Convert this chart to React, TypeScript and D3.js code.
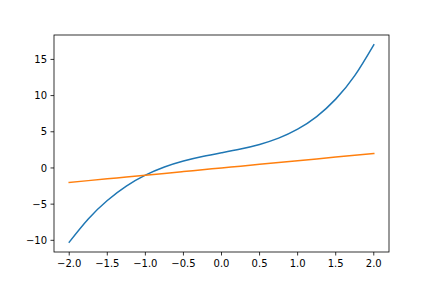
import React from "react";
import * as d3 from "d3";

const xs = [-2.0, -1.75, -1.5, -1.25, -1.0, -0.75, -0.5, -0.25, 0.0, 0.25, 0.5, 0.75, 1.0, 1.25, 1.5, 1.75, 2.0];
const blueYs = [-10.25, -7.05, -4.5, -2.51, -1.0, 0.13, 0.96, 1.58, 2.1, 2.62, 3.25, 4.12, 5.36, 7.1, 9.51, 12.75, 17.01];
const orangeYs = [-2.0, -1.75, -1.5, -1.25, -1.0, -0.75, -0.5, -0.25, 0.0, 0.25, 0.5, 0.75, 1.0, 1.25, 1.5, 1.75, 2.0];
const xTicks = [-2.0, -1.5, -1.0, -0.5, 0.0, 0.5, 1.0, 1.5, 2.0];
const yTicks = [-10, -5, 0, 5, 10, 15];

const W = 432;
const H = 288;
const left = 54;
const right = 389;
const top = 35;
const bottom = 252;

const fmtX = (v: number) => v.toFixed(1).replace("-", "\u2212");
const fmtY = (v: number) => String(v).replace("-", "\u2212");

export default function App() {
  const allY = [...blueYs, ...orangeYs];
  const yMin = d3.min(allY) as number;
  const yMax = d3.max(allY) as number;
  const yPad = (yMax - yMin) * 0.05;
  const xMin = d3.min(xs) as number;
  const xMax = d3.max(xs) as number;
  const xPad = (xMax - xMin) * 0.05;
  const x = d3.scaleLinear().domain([xMin - xPad, xMax + xPad]).range([left, right]);
  const y = d3.scaleLinear().domain([yMin - yPad, yMax + yPad]).range([bottom, top]);

  const line = d3
    .line<number>()
    .x((_, i) => x(xs[i]))
    .y((d) => y(d))
    .curve(d3.curveNatural);

  const font = "DejaVu Sans, sans-serif";

  return (
    <svg
      width={W}
      height={H}
      style={{ position: "absolute", left: 0, top: 0, background: "#fff" }}
      xmlns="http://www.w3.org/2000/svg"
    >
      <rect x={0} y={0} width={W} height={H} fill="#fff" />
      <path d={line(blueYs) || ""} fill="none" stroke="#1f77b4" strokeWidth={1.5} strokeLinejoin="round" strokeLinecap="square" />
      <path d={line(orangeYs) || ""} fill="none" stroke="#ff7f0e" strokeWidth={1.5} strokeLinejoin="round" strokeLinecap="square" />
      <rect x={left} y={top} width={right - left} height={bottom - top} fill="none" stroke="#000" strokeWidth={0.8} />
      {xTicks.map((t) => (
        <g key={"x" + t}>
          <line x1={x(t)} x2={x(t)} y1={bottom} y2={bottom + 3.5} stroke="#000" strokeWidth={0.8} />
          <text x={x(t)} y={bottom + 15} fontSize={10} fontFamily={font} textAnchor="middle" fill="#000">
            {fmtX(t)}
          </text>
        </g>
      ))}
      {yTicks.map((t) => (
        <g key={"y" + t}>
          <line x1={left - 3.5} x2={left} y1={y(t)} y2={y(t)} stroke="#000" strokeWidth={0.8} />
          <text x={left - 7} y={y(t) + 3.6} fontSize={10} fontFamily={font} textAnchor="end" fill="#000">
            {fmtY(t)}
          </text>
        </g>
      ))}
    </svg>
  );
}
